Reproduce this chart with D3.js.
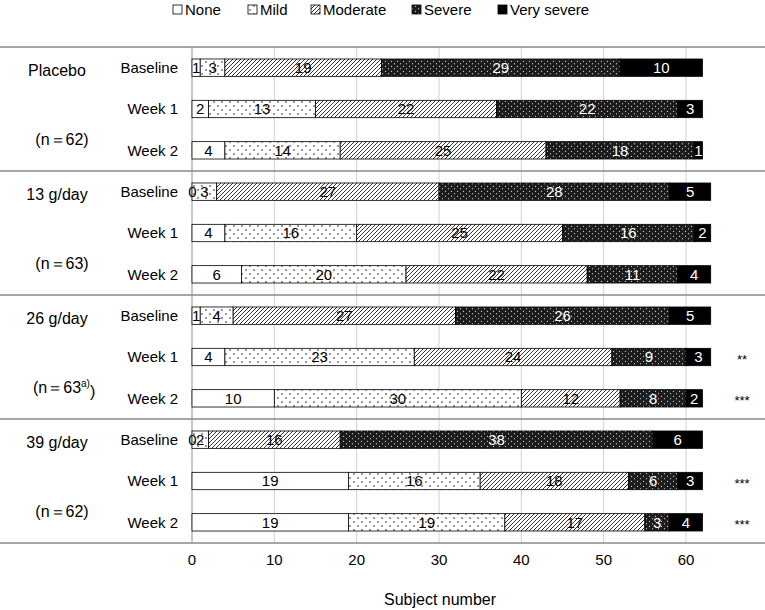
<!DOCTYPE html>
<html><head><meta charset="utf-8">
<script src="https://cdn.jsdelivr.net/npm/d3@7"></script>
<style>body{margin:0;background:#fff}svg{display:block;font-family:"Liberation Sans",Arial,sans-serif}</style>
</head><body><svg id="c" width="765" height="610"></svg>
<script>
const severities = ["None","Mild","Moderate","Severe","Very severe"];
const groups = ["Placebo","13 g/day","26 g/day","39 g/day"];
const groupN = ["(n\uFF1D62)","(n\uFF1D63)","(n\uFF1D63","(n\uFF1D62)"];
const timepoints = ["Baseline","Week 1","Week 2"];
const placebo = [[1,3,19,29,10],[2,13,22,22,3],[4,14,25,18,1]];
const dose13 = [[0,3,27,28,5],[4,16,25,16,2],[6,20,22,11,4]];
const dose26 = [[1,4,27,26,5],[4,23,24,9,3],[10,30,12,8,2]];
const dose39 = [[0,2,16,38,6],[19,16,18,6,3],[19,19,17,3,4]];
const significance = [["","",""],["","",""],["","**","***"],["","***","***"]];
const xTicks = [0,10,20,30,40,50,60];
const xLabel = "Subject number";

const svg = d3.select("#c");
const defs = svg.append("defs");
// patterns
const pMild = defs.append("pattern").attr("id","p1").attr("patternUnits","userSpaceOnUse").attr("width",8).attr("height",8);
pMild.append("rect").attr("width",8).attr("height",8).attr("fill","#fff");
pMild.append("circle").attr("cx",2).attr("cy",2).attr("r",0.75).attr("fill","#000");
pMild.append("circle").attr("cx",6).attr("cy",6).attr("r",0.75).attr("fill","#000");
const pMod = defs.append("pattern").attr("id","p2").attr("patternUnits","userSpaceOnUse").attr("width",4).attr("height",4);
pMod.append("rect").attr("width",4).attr("height",4).attr("fill","#fff");
pMod.append("path").attr("d","M-1,1 l2,-2 M0,4 l4,-4 M3,5 l2,-2").attr("stroke","#000").attr("stroke-width",0.8);
const pSev = defs.append("pattern").attr("id","p3").attr("patternUnits","userSpaceOnUse").attr("width",6).attr("height",5);
pSev.append("rect").attr("width",6).attr("height",5).attr("fill","#1c1c1c");
pSev.append("circle").attr("cx",1.5).attr("cy",1.25).attr("r",0.6).attr("fill","#fff");
pSev.append("circle").attr("cx",4.5).attr("cy",3.75).attr("r",0.6).attr("fill","#fff");
const fills = ["#fff","url(#p1)","url(#p2)","url(#p3)","#000"];
const textCol = ["#000","#000","#000","#fff","#fff"];

const all = [placebo,dose13,dose26,dose39];
const rows = [];
all.forEach((g,gi)=>g.forEach((vals,ti)=>rows.push({gi,ti,key:gi+"-"+ti,vals})));

const x = d3.scaleLinear().domain([0,60]).range([192,686]);
const y = d3.scaleBand().domain(rows.map(r=>r.key)).range([47,543]).paddingInner(0.58).paddingOuter(0.29);
const yTop = 47, yBottom = 543;

// gridlines
svg.append("g").selectAll("line").data(xTicks).join("line")
  .attr("x1",d=>x(d)).attr("x2",d=>x(d)).attr("y1",yTop).attr("y2",yBottom)
  .attr("stroke",d=>d===0?"#c8c8c8":"#d0d0d0").attr("stroke-width",d=>d===0?2:1);

// separators
const bandStep = (yBottom-yTop)/4;
svg.append("g").selectAll("line").data(d3.range(5)).join("line")
  .attr("x1",0).attr("x2",765).attr("y1",d=>yTop+d*bandStep).attr("y2",d=>yTop+d*bandStep)
  .attr("stroke","#8a8a8a").attr("stroke-width",1.5);

// bars
const bars = svg.append("g");
rows.forEach(r=>{
  let cum=0;
  const segs = r.vals.map((v,i)=>{const s={i,v,x0:cum,x1:cum+v};cum+=v;return s;});
  const g = bars.append("g");
  g.selectAll("rect").data(segs.filter(s=>s.v>0)).join("rect")
    .attr("x",s=>x(s.x0)).attr("width",s=>x(s.x1)-x(s.x0))
    .attr("y",y(r.key)).attr("height",y.bandwidth())
    .attr("fill",s=>fills[s.i]).attr("stroke","#000").attr("stroke-width",0.8);
  g.selectAll("text").data(segs).join("text")
    .attr("x",s=>x((s.x0+s.x1)/2)+(s.v===0?0.5:0)).attr("y",y(r.key)+y.bandwidth()/2)
    .attr("dy","0.36em").attr("text-anchor","middle").attr("font-size",15)
    .attr("fill",s=>textCol[s.i]).text(s=>s.v);
  // row label
  svg.append("text").attr("x",178).attr("y",y(r.key)+y.bandwidth()/2).attr("dy","0.36em")
    .attr("text-anchor","end").attr("font-size",15).text(timepoints[r.ti]);
  const sig = significance[r.gi][r.ti];
  if(sig) svg.append("text").attr("x",742).attr("y",y(r.key)+y.bandwidth()/2).attr("dy","0.5em")
    .attr("text-anchor","middle").attr("font-size",13).text(sig);
});

// group labels
groups.forEach((g,gi)=>{
  const yb = y(gi+"-0")+y.bandwidth()/2;
  svg.append("text").attr("x",57).attr("y",yb+3).attr("dy","0.36em").attr("text-anchor","middle").attr("font-size",16).text(g);
  const yn = (y(gi+"-1")+y(gi+"-2"))/2+y.bandwidth()/2 + 10;
  const t = svg.append("text").attr("x",gi===2?33:62).attr("y",yn).attr("dy","0.36em").attr("text-anchor",gi===2?"start":"middle").attr("font-size",16);
  if(gi===2){
    t.text(groupN[gi]);
    t.append("tspan").attr("font-size",10).attr("dy","-0.6em").text("a)");
    t.append("tspan").attr("dy","0.6em").text(")");
  } else t.text(groupN[gi]);
});

// x axis labels
svg.append("g").selectAll("text").data(xTicks).join("text")
  .attr("x",d=>x(d)).attr("y",565).attr("text-anchor","middle").attr("font-size",15).text(d=>d);
svg.append("text").attr("x",440).attr("y",605).attr("text-anchor","middle").attr("font-size",16).text(xLabel);

// legend
const legX = [173,248,311,412,498];
const leg = svg.append("g");
severities.forEach((s,i)=>{
  leg.append("rect").attr("x",legX[i]).attr("y",5).attr("width",9).attr("height",9)
    .attr("fill",fills[i]).attr("stroke","#000").attr("stroke-width",0.8);
  leg.append("text").attr("x",legX[i]+12).attr("y",15).attr("font-size",15).text(s);
});
</script></body></html>
